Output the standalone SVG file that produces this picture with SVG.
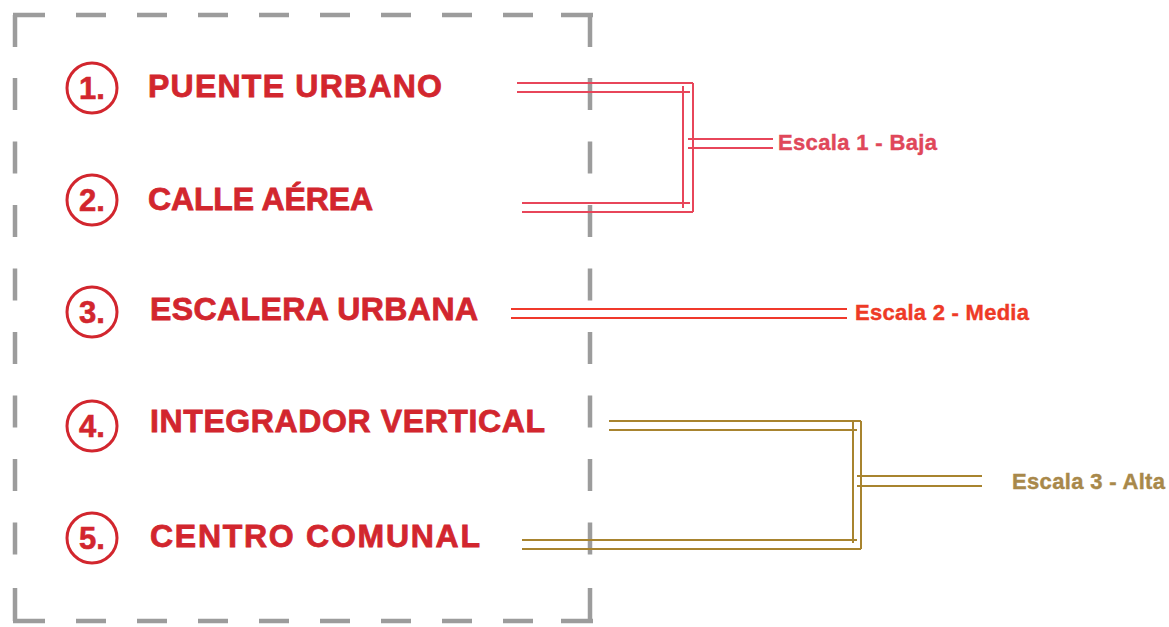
<svg xmlns="http://www.w3.org/2000/svg" width="1169" height="627" viewBox="0 0 1169 627">
  <style>
    .frame { fill: none; stroke: #9c9c9c; stroke-width: 4.5; }
    .dh { stroke-dasharray: 30 31; }
    .dv { stroke-dasharray: 32 31.5; }
    .circ { fill: none; stroke: #d2262e; stroke-width: 3; }
    .num { font-family: "Liberation Sans", Arial, sans-serif; font-weight: bold; font-size: 31px; fill: #d2262e; stroke: #d2262e; stroke-width: 0.6; text-anchor: middle; }
    .lbl { font-family: "Liberation Sans", Arial, sans-serif; font-weight: bold; font-size: 32px; fill: #d2262e; stroke: #d2262e; stroke-width: 0.8; }
    .esc { font-family: "Liberation Sans", Arial, sans-serif; font-weight: bold; font-size: 22px; stroke-width: 0.4; }
    .c1 { stroke: #e8465a; stroke-width: 2; fill: none; }
    .c2 { stroke: #f0392b; stroke-width: 2; fill: none; }
    .c3 { stroke: #a8842f; stroke-width: 2; fill: none; }
  </style>
  <rect width="1169" height="627" fill="#ffffff"/>

  <g id="frame">
    <path class="frame" d="M13,15 H45 M15,15 V47"/>
    <path class="frame" d="M561,15 H593 M590,15 V47"/>
    <path class="frame" d="M13,621 H45 M15,621 V588"/>
    <path class="frame" d="M561,621 H593 M590,621 V588"/>
    <line class="frame dh" x1="76" y1="15" x2="534" y2="15"/>
    <line class="frame dh" x1="76" y1="621" x2="534" y2="621"/>
    <line class="frame dv" x1="15" y1="78" x2="15" y2="555"/>
    <line class="frame dv" x1="590" y1="78" x2="590" y2="555"/>
  </g>

  <g id="connectors">
    <g id="conn-escala-1">
      <line class="c1" x1="517" y1="83" x2="693" y2="83"/>
      <line class="c1" x1="517" y1="92" x2="690" y2="92"/>
      <line class="c1" x1="683" y1="86" x2="683" y2="208"/>
      <line class="c1" x1="693" y1="83" x2="693" y2="212"/>
      <line class="c1" x1="522" y1="203" x2="690" y2="203"/>
      <line class="c1" x1="522" y1="212" x2="693" y2="212"/>
      <line class="c1" x1="688" y1="139" x2="773" y2="139"/>
      <line class="c1" x1="688" y1="148" x2="773" y2="148"/>
    </g>
    <g id="conn-escala-2">
      <line class="c2" x1="511" y1="309" x2="847" y2="309"/>
      <line class="c2" x1="511" y1="318" x2="847" y2="318"/>
    </g>
    <g id="conn-escala-3">
      <line class="c3" x1="609" y1="421" x2="861" y2="421"/>
      <line class="c3" x1="609" y1="430" x2="857" y2="430"/>
      <line class="c3" x1="853" y1="421" x2="853" y2="543"/>
      <line class="c3" x1="861" y1="421" x2="861" y2="549"/>
      <line class="c3" x1="522" y1="540" x2="857" y2="540"/>
      <line class="c3" x1="522" y1="549" x2="861" y2="549"/>
      <line class="c3" x1="857" y1="476" x2="982" y2="476"/>
      <line class="c3" x1="857" y1="486" x2="982" y2="486"/>
    </g>
  </g>

  <g id="item-1">
    <circle class="circ" cx="92" cy="88" r="25"/>
    <text class="num" x="92" y="99">1.</text>
    <text class="lbl" x="148" y="97" textLength="294" lengthAdjust="spacing">PUENTE URBANO</text>
  </g>
  <g id="item-2">
    <circle class="circ" cx="92" cy="200" r="25"/>
    <text class="num" x="92" y="211">2.</text>
    <text class="lbl" x="148" y="210" textLength="225" lengthAdjust="spacing">CALLE AÉREA</text>
  </g>
  <g id="item-3">
    <circle class="circ" cx="92" cy="312" r="25"/>
    <text class="num" x="92" y="323">3.</text>
    <text class="lbl" x="150" y="320" textLength="328" lengthAdjust="spacing">ESCALERA URBANA</text>
  </g>
  <g id="item-4">
    <circle class="circ" cx="92" cy="426" r="25"/>
    <text class="num" x="92" y="437">4.</text>
    <text class="lbl" x="150" y="432" textLength="395" lengthAdjust="spacing">INTEGRADOR VERTICAL</text>
  </g>
  <g id="item-5">
    <circle class="circ" cx="92" cy="538" r="25"/>
    <text class="num" x="92" y="549">5.</text>
    <text class="lbl" x="150" y="547" textLength="330" lengthAdjust="spacing">CENTRO COMUNAL</text>
  </g>

  <g id="escala-1">
    <text class="esc" x="778" y="150" fill="#e0475a" stroke="#e0475a" textLength="159" lengthAdjust="spacing">Escala 1 - Baja</text>
  </g>
  <g id="escala-2">
    <text class="esc" x="855" y="320" fill="#ee3a26" stroke="#ee3a26" textLength="174" lengthAdjust="spacing">Escala 2 - Media</text>
  </g>
  <g id="escala-3">
    <text class="esc" x="1012" y="489" fill="#a8884a" stroke="#a8884a" textLength="153" lengthAdjust="spacing">Escala 3 - Alta</text>
  </g>
</svg>
